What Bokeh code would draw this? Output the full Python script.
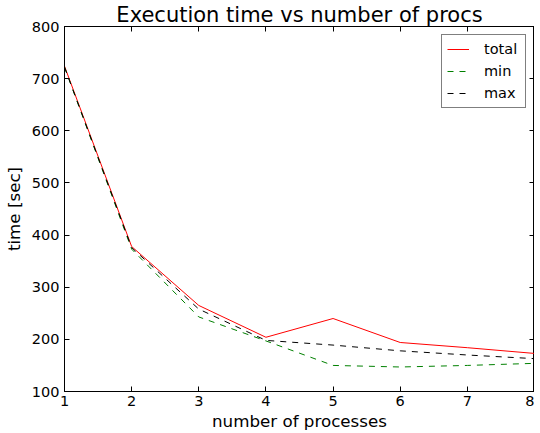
from bokeh.plotting import figure
from bokeh.models import LinearAxis, Range1d, Legend, LegendItem, FixedTicker
from bokeh.embed import file_html
from bokeh.resources import INLINE

procs = [1, 2, 3, 4, 5, 6, 7, 8]
total = [724, 378, 265, 204, 240, 194, 184, 173]
t_min = [722, 373, 243, 197, 150, 147, 150, 154]
t_max = [722, 376, 258, 198, 189, 178, 170, 163]
yticks = [100, 200, 300, 400, 500, 600, 700, 800]

FONT = "DejaVu Sans"

p = figure(frame_width=470, frame_height=365, output_backend="svg", toolbar_location=None,
           x_range=Range1d(1, 8), y_range=Range1d(100, 800),
           min_border_left=59, min_border_right=0, min_border_top=20, min_border_bottom=0)
p.title.text = "Execution time vs number of procs"
p.title.text_font = FONT
p.title.text_font_size = "21px"
p.title.text_font_style = "normal"
p.title.text_color = "black"
p.title.align = "center"
p.title.standoff = 0
p.title.offset = 0

p.xgrid.visible = False
p.ygrid.visible = False
p.outline_line_color = "black"
p.outline_line_width = 1

for ax in (p.xaxis[0], p.yaxis[0]):
    ax.major_tick_in = 5
    ax.major_tick_out = 0
    ax.minor_tick_in = 0
    ax.minor_tick_out = 0
    ax.axis_line_color = "black"
    ax.major_tick_line_color = "black"
    ax.major_label_text_font = FONT
    ax.major_label_text_font_size = "14.5px"
    ax.major_label_text_color = "black"
    ax.axis_label_text_font = FONT
    ax.axis_label_text_font_size = "16.7px"
    ax.axis_label_text_font_style = "normal"
    ax.axis_label_text_color = "black"

p.xaxis[0].ticker = FixedTicker(ticks=procs)
p.yaxis[0].ticker = FixedTicker(ticks=yticks)
p.xaxis[0].axis_label = "number of processes"
p.yaxis[0].axis_label = "time [sec]"
p.xaxis[0].major_label_standoff = 4
p.yaxis[0].major_label_standoff = 5
p.xaxis[0].axis_label_standoff = 2
p.yaxis[0].axis_label_standoff = 5

for loc in ("above", "right"):
    ticks = procs if loc == "above" else yticks
    ax = LinearAxis()
    ax.ticker = FixedTicker(ticks=ticks)
    ax.major_label_overrides = {t: "" for t in ticks}
    ax.major_tick_in = 5
    ax.major_tick_out = 0
    ax.minor_tick_in = 0
    ax.minor_tick_out = 0
    ax.major_label_standoff = 0
    ax.axis_line_color = "black"
    ax.major_tick_line_color = "black"
    p.add_layout(ax, loc)

r1 = p.line(procs, total, line_color="#ff0000", line_width=1)
r2 = p.line(procs, t_min, line_color="#008000", line_width=1, line_dash="6 6")
r3 = p.line(procs, t_max, line_color="black", line_width=1, line_dash="6 6")

legend = Legend(items=[LegendItem(label="total", renderers=[r1]),
                       LegendItem(label="min", renderers=[r2]),
                       LegendItem(label="max", renderers=[r3])],
                location="top_right")
legend.label_text_font = FONT
legend.label_text_font_size = "14.5px"
legend.label_text_color = "black"
legend.border_line_color = "black"
legend.border_line_width = 1
legend.glyph_width = 22
legend.glyph_height = 18
legend.spacing = 4
legend.padding = 5
legend.margin = 8
legend.label_standoff = 15
legend.label_width = 36
legend.background_fill_alpha = 1
p.add_layout(legend)

open("out.html", "w").write(file_html(p, INLINE))
